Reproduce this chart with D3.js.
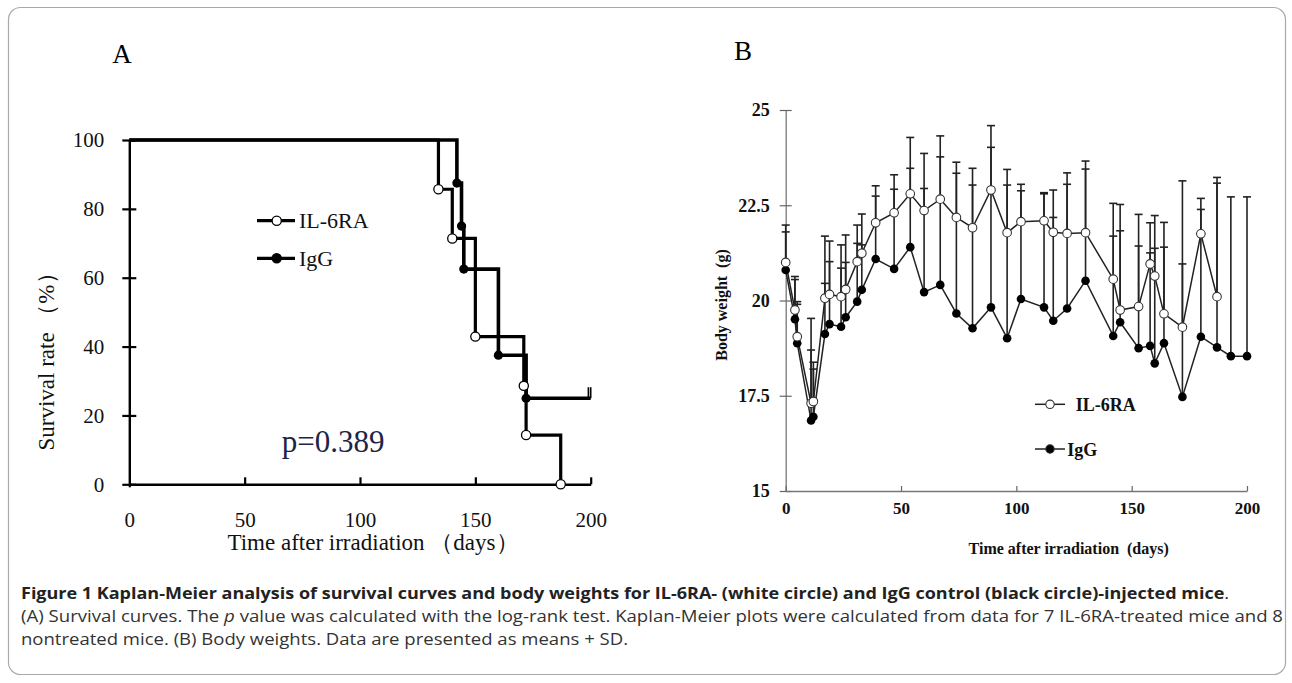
<!DOCTYPE html>
<html><head><meta charset="utf-8">
<script src="https://cdn.jsdelivr.net/npm/d3@7"></script>
<style>body{margin:0;background:#fff} svg{display:block}</style>
</head><body>
<svg id="fig" width="1292" height="683"></svg>
<script>
// ---------- Panel A: Kaplan-Meier survival ----------
const kmIL6Times = [0, 134, 140, 150, 171, 172, 187];
const kmIL6Surv  = [100, 85.7, 71.4, 42.9, 28.6, 14.3, 0];
const kmIgGTimes = [0, 142, 144, 145, 160, 172, 200];
const kmIgGSurv  = [100, 87.5, 75, 62.5, 37.5, 25, 25];
const kmIgGCensor = [199, 200];
const aXTicks = [0, 50, 100, 150, 200];
const aYTicks = [0, 20, 40, 60, 80, 100];
const seriesNames = ["IL-6RA", "IgG"];
const pValueText = "p=0.389";

// ---------- Panel B: body weights (mean + SD) ----------
const bwDays = [0, 4, 5, 11, 12, 17, 19, 24, 26, 31, 33, 39, 47, 54, 60, 67, 74, 81, 89, 96,
                102, 112, 116, 122, 130, 142, 145, 153, 158, 160, 164, 172, 180, 187, 193, 200];
const bwIL6Mean = [21.0, 19.75, 19.05, 17.3, 17.35, 20.06, 20.16, 20.10, 20.29, 21.02, 21.24, 22.04,
                   22.30, 22.80, 22.36, 22.66, 22.18, 21.91, 22.90, 21.78, 22.07, 22.09, 21.79, 21.76,
                   21.78, 20.56, 19.75, 19.84, 20.96, 20.64, 19.65, 19.30, 21.75, 20.10];
const bwIL6SD   = [0.98, 0.88, 0.92, 2.23, 1.03, 1.63, 1.40, 1.36, 1.43, 0.96, 1.03, 0.97,
                   1.00, 1.48, 1.50, 1.66, 1.45, 1.56, 1.69, 1.66, 0.98, 0.74, 1.11, 1.59,
                   1.88, 1.99, 2.77, 2.42, 1.08, 1.59, 2.40, 3.84, 0.93, 3.13];
const bwIgGMean = [20.8, 19.51, 18.88, 16.85, 16.95, 19.12, 19.38, 19.31, 19.56, 19.97, 20.28, 21.09,
                   20.83, 21.40, 20.22, 20.41, 19.66, 19.27, 19.82, 19.01, 20.04, 19.82, 19.47, 19.79,
                   20.52, 19.07, 19.43, 18.75, 18.81, 18.35, 18.88, 17.47, 19.05, 18.77, 18.54, 18.54];
const bwIgGSD   = [1.00, 1.04, 1.02, 1.85, 1.25, 1.33, 1.64, 1.54, 1.44, 1.53, 1.18, 1.65,
                   2.09, 2.07, 2.72, 3.36, 3.68, 3.76, 4.20, 4.02, 2.84, 2.98, 2.71, 3.26,
                   2.93, 2.62, 2.40, 2.68, 2.44, 3.02, 2.52, 3.49, 3.34, 4.31, 4.18, 4.18];
const bXTicks = [0, 50, 100, 150, 200];
const bYTicks = [15, 17.5, 20, 22.5, 25];

const SERIF = "'Liberation Serif','Times New Roman',serif";
const SANS = "'Open Sans','Noto Sans',sans-serif";

const svg = d3.select("#fig");
svg.append("rect").attr("width", 1292).attr("height", 683).attr("fill", "#fff");
// frame
svg.append("rect").attr("x", 8.5).attr("y", 7.5).attr("width", 1277).attr("height", 667)
  .attr("rx", 12).attr("fill", "none").attr("stroke", "#a9a9a9").attr("stroke-width", 1.2);

// ================= Panel A =================
const gA = svg.append("g");
const xA = d3.scaleLinear().domain([0, 200]).range([129.3, 590.7]);
const yA = d3.scaleLinear().domain([0, 100]).range([484.3, 140]);

gA.append("text").attr("x", 122).attr("y", 63).attr("text-anchor", "middle")
  .attr("font-family", SERIF).attr("font-size", 27).text("A");

const axAy = gA.append("g").attr("transform", `translate(${xA(0)},0)`)
  .call(d3.axisLeft(yA).tickValues(aYTicks).tickSizeInner(7).tickSizeOuter(0).tickPadding(18));
axAy.selectAll(".tick line").attr("x1", 7).attr("stroke-width", 2.2);
axAy.select(".domain").attr("stroke-width", 2.4);
axAy.selectAll("text").attr("font-family", SERIF).attr("font-size", 21).attr("fill", "#111");

const axAx = gA.append("g").attr("transform", `translate(0,${yA(0)})`)
  .call(d3.axisBottom(xA).tickValues(aXTicks).tickSizeInner(-7).tickSizeOuter(0).tickPadding(28));
axAx.selectAll(".tick line").attr("stroke-width", 2.2);
axAx.select(".domain").attr("stroke-width", 2.4);
axAx.selectAll("text").attr("font-family", SERIF).attr("font-size", 21).attr("fill", "#111");
axAx.selectAll(".tick").filter(d => d === 0).select("line").attr("y2", 3);

gA.append("text").attr("x", 373).attr("y", 550).attr("text-anchor", "middle")
  .attr("font-family", SERIF).attr("font-size", 23).attr("fill", "#111")
  .text("Time after irradiation （days）");
gA.append("text").attr("transform", "translate(53.5,356) rotate(-90)").attr("text-anchor", "middle")
  .attr("font-family", SERIF).attr("font-size", 23).attr("fill", "#111")
  .text("Survival rate （%）");

const stepLine = d3.line().x(d => xA(d[0])).y(d => yA(d[1])).curve(d3.curveStepAfter);
const il6Pts = kmIL6Times.map((t, i) => [t, kmIL6Surv[i]]);
const iggPts = kmIgGTimes.map((t, i) => [t, kmIgGSurv[i]]);
gA.append("path").attr("d", stepLine(iggPts)).attr("fill", "none").attr("stroke", "#000").attr("stroke-width", 3.6);
gA.append("path").attr("d", stepLine(il6Pts)).attr("fill", "none").attr("stroke", "#000").attr("stroke-width", 3.2);
gA.selectAll(".cens").data(kmIgGCensor).join("line")
  .attr("x1", d => xA(d)).attr("x2", d => xA(d))
  .attr("y1", yA(kmIgGSurv[kmIgGSurv.length - 1])).attr("y2", yA(kmIgGSurv[kmIgGSurv.length - 1]) - 11)
  .attr("stroke", "#000").attr("stroke-width", 1.6);
gA.selectAll(".ev1").data(iggPts.slice(1, -1)).join("circle")
  .attr("cx", d => xA(d[0])).attr("cy", d => yA(d[1])).attr("r", 4.6).attr("fill", "#000");
gA.selectAll(".ev0").data(il6Pts.slice(1)).join("circle")
  .attr("cx", d => xA(d[0])).attr("cy", d => yA(d[1])).attr("r", 4.6)
  .attr("fill", "#fff").attr("stroke", "#000").attr("stroke-width", 1.3);

// legend A
const legA = [{name: seriesNames[0], y: 220.7, fill: "#fff"}, {name: seriesNames[1], y: 258.3, fill: "#000"}];
legA.forEach(l => {
  gA.append("line").attr("x1", 257).attr("x2", 295).attr("y1", l.y).attr("y2", l.y)
    .attr("stroke", "#000").attr("stroke-width", 3.2);
  gA.append("circle").attr("cx", 276.7).attr("cy", l.y).attr("r", 4.6).attr("fill", l.fill)
    .attr("stroke", "#000").attr("stroke-width", 1.3);
  gA.append("text").attr("x", 299).attr("y", l.y + 7.5).attr("font-family", SERIF)
    .attr("font-size", 22).attr("fill", "#111").text(l.name);
});
gA.append("text").attr("x", 281.7).attr("y", 451.7).attr("font-family", SERIF)
  .attr("font-size", 31).attr("fill", "#1d2547").text(pValueText);

// ================= Panel B =================
const gB = svg.append("g");
const xB = d3.scaleLinear().domain([0, 200]).range([785.7, 1247]);
const yB = d3.scaleLinear().domain([15, 25]).range([491, 110]);

gB.append("text").attr("x", 743).attr("y", 60).attr("text-anchor", "middle")
  .attr("font-family", SERIF).attr("font-size", 27).text("B");

const axBy = gB.append("g").attr("transform", `translate(${xB(0)},0)`)
  .call(d3.axisLeft(yB).tickValues(bYTicks).tickFormat(d3.format("~g")).tickSizeInner(6).tickSizeOuter(0).tickPadding(10));
axBy.selectAll(".tick line").attr("x1", 6).attr("stroke", "#666").attr("stroke-width", 1.2);
axBy.select(".domain").attr("stroke", "#777").attr("stroke-width", 1.3);
axBy.selectAll("text").attr("font-family", SERIF).attr("font-size", 18).attr("font-weight", "bold").attr("fill", "#111");

const axBx = gB.append("g").attr("transform", `translate(0,${yB(15)})`)
  .call(d3.axisBottom(xB).tickValues(bXTicks).tickSizeInner(-5).tickSizeOuter(0).tickPadding(11));
axBx.selectAll(".tick line").attr("stroke", "#666").attr("stroke-width", 1.2);
axBx.select(".domain").attr("stroke", "#777").attr("stroke-width", 1.3);
axBx.selectAll("text").attr("font-family", SERIF).attr("font-size", 17).attr("font-weight", "bold").attr("fill", "#111");

gB.append("text").attr("x", 1068.7).attr("y", 554).attr("text-anchor", "middle")
  .attr("font-family", SERIF).attr("font-size", 16).attr("font-weight", "bold").attr("fill", "#111")
  .attr("xml:space", "preserve").text("Time after irradiation  (days)");
gB.append("text").attr("transform", "translate(727,305) rotate(-90)").attr("text-anchor", "middle")
  .attr("font-family", SERIF).attr("font-size", 16).attr("font-weight", "bold").attr("fill", "#111")
  .attr("xml:space", "preserve").text("Body weight  (g)");

const il6B = bwIL6Mean.map((m, i) => ({d: bwDays[i], m, sd: bwIL6SD[i]}));
const iggB = bwIgGMean.map((m, i) => ({d: bwDays[i], m, sd: bwIgGSD[i]}));
const errs = il6B.concat(iggB);
const gErr = gB.append("g").attr("stroke", "#222").attr("stroke-width", 1.6);
gErr.selectAll(".eb").data(errs).join("line")
  .attr("x1", d => xB(d.d)).attr("x2", d => xB(d.d))
  .attr("y1", d => yB(d.m)).attr("y2", d => yB(d.m + d.sd));
gErr.selectAll(".ec").data(errs).join("line")
  .attr("x1", d => xB(d.d) - 4).attr("x2", d => xB(d.d) + 4)
  .attr("y1", d => yB(d.m + d.sd)).attr("y2", d => yB(d.m + d.sd));

const lnB = d3.line().x(d => xB(d.d)).y(d => yB(d.m));
gB.append("path").attr("d", lnB(iggB)).attr("fill", "none").attr("stroke", "#222").attr("stroke-width", 1.5);
gB.append("path").attr("d", lnB(il6B)).attr("fill", "none").attr("stroke", "#222").attr("stroke-width", 1.5);
gB.selectAll(".pb").data(iggB).join("circle").attr("cx", d => xB(d.d)).attr("cy", d => yB(d.m))
  .attr("r", 4.3).attr("fill", "#000");
gB.selectAll(".pw").data(il6B).join("circle").attr("cx", d => xB(d.d)).attr("cy", d => yB(d.m))
  .attr("r", 4.3).attr("fill", "#fff").attr("stroke", "#333").attr("stroke-width", 1.1);

// legend B
const legB = [{name: seriesNames[0], y: 404.3, fill: "#fff", tx: 1075.7}, {name: seriesNames[1], y: 449, fill: "#000", tx: 1067.3}];
legB.forEach(l => {
  gB.append("line").attr("x1", 1035).attr("x2", 1065).attr("y1", l.y).attr("y2", l.y)
    .attr("stroke", "#222").attr("stroke-width", 1.5);
  gB.append("circle").attr("cx", 1050).attr("cy", l.y).attr("r", 4.2).attr("fill", l.fill)
    .attr("stroke", "#333").attr("stroke-width", 1.1);
  gB.append("text").attr("x", l.tx).attr("y", l.y + 6.5).attr("font-family", SERIF)
    .attr("font-size", 18).attr("font-weight", "bold").attr("fill", "#111").text(l.name);
});

// ================= Caption =================
const cap = svg.append("g").attr("font-family", SANS).attr("fill", "#222");
const c1 = cap.append("text").attr("x", 21).attr("y", 599).attr("font-size", 16)
  .attr("textLength", 1208).attr("lengthAdjust", "spacingAndGlyphs");
c1.append("tspan").attr("font-weight", "bold")
  .text("Figure 1 Kaplan-Meier analysis of survival curves and body weights for IL-6RA- (white circle) and IgG control (black circle)-injected mice");
c1.append("tspan").text(".");
const c2 = cap.append("text").attr("x", 21).attr("y", 622).attr("font-size", 16).attr("fill", "#333")
  .attr("textLength", 1262).attr("lengthAdjust", "spacingAndGlyphs");
c2.append("tspan").text("(A) Survival curves. The ");
c2.append("tspan").attr("font-style", "italic").text("p");
c2.append("tspan").text(" value was calculated with the log-rank test. Kaplan-Meier plots were calculated from data for 7 IL-6RA-treated mice and 8");
cap.append("text").attr("x", 21).attr("y", 645).attr("font-size", 16).attr("fill", "#333")
  .attr("textLength", 607).attr("lengthAdjust", "spacingAndGlyphs")
  .text("nontreated mice. (B) Body weights. Data are presented as means + SD.");
</script>
</body></html>
